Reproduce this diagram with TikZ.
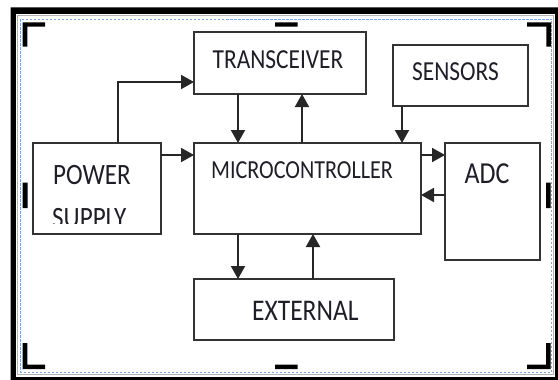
\documentclass[tikz,border=0pt]{standalone}
\usepackage{fontspec}
\setmainfont{Carlito}[FakeStretch=0.85]
\usetikzlibrary{arrows.meta}
\definecolor{inktext}{RGB}{30,30,40}
\definecolor{pageblue}{RGB}{125,165,230}
\begin{document}
\begin{tikzpicture}[x=1pt,y=-1pt,
  blk/.style={draw=black!80,line width=1.6pt,inner sep=0pt,outer sep=0pt},
  lbl/.style={anchor=base west,inner sep=0pt,text=inktext},
  link/.style={draw=black!85,line width=2pt,-{Triangle[length=13pt,width=14pt]}},
  crop/.style={fill=black}]
\useasboundingbox (0,0) rectangle (558,380);
\fill[black,even odd rule] (10.7,7.3) rectangle (562,384) (15.8,13.8) rectangle (555,377);
\draw[gray!60,line width=.6pt] (17.5,15) rectangle (553.5,374.5);
\draw[pageblue,line width=1pt,dash pattern=on 2.5pt off 1.5pt] (20.5,19) rectangle (551.5,372);
\fill[crop] (22.7,22.3) rectangle (45,26.7) (22.7,22.3) rectangle (27.3,46.7);
\fill[crop] (527,22.3) rectangle (551,26.7) (546.4,22.3) rectangle (551,46.7);
\fill[crop] (22.7,343) rectangle (27.3,369) (22.7,364.5) rectangle (45,369);
\fill[crop] (546,343) rectangle (550.6,369) (527,364.5) rectangle (550.6,369);
\fill[crop] (275,22.3) rectangle (297.5,26.7) (275,364.5) rectangle (297.5,369);
\fill[crop] (22.7,182.7) rectangle (27.5,208) (546,182.7) rectangle (550.6,208);
\node[blk,minimum width=172pt,minimum height=62pt] (trx) at (280,63) {};
\node[blk,minimum width=135pt,minimum height=61pt] (sen) at (460.5,75.5) {};
\node[blk,minimum width=128pt,minimum height=91pt] (psu) at (97,188.5) {};
\node[blk,minimum width=227pt,minimum height=91pt] (mcu) at (307.5,188.5) {};
\node[blk,minimum width=95pt,minimum height=117pt] (adc) at (492.5,201.5) {};
\node[blk,minimum width=200pt,minimum height=61pt] (ext) at (294,309.5) {};
\node[lbl,font=\fontsize{27.5}{30}\selectfont] (trxl) at (212.5,68) {TRANSCEIVER};
\node[lbl,font=\fontsize{26}{30}\selectfont] (mcul) at (211,178) {MICROCONTROLLER};
\node[lbl,font=\fontsize{27.5}{30}\selectfont] (senl) at (412,81) {SENSORS};
\node[lbl,font=\fontsize{29.5}{30}\selectfont] (psul) at (53,184) {POWER};
\begin{scope}
\clip (33,143) rectangle (161,223.5);
\node[lbl,font=\fontsize{29.5}{30}\selectfont] (psul2) at (52,227) {SUPPLY};
\end{scope}
\node[lbl,font=\fontsize{30.5}{30}\selectfont] (adcl) at (464.5,183) {ADC};
\node[lbl,font=\fontsize{30}{30}\selectfont] (extl) at (252,320) {EXTERNAL};
\draw[link] ([xshift=85pt]psu.north west) |- ([yshift=-19pt]trx.west);
\draw[link] ([yshift=-12pt]psu.north east) -- ([yshift=-12pt]mcu.north west);
\draw[link] ([xshift=44pt]trx.south west) -- ([xshift=44pt]mcu.north west);
\draw[link] ([xshift=108pt]mcu.north west) -- ([xshift=108pt]trx.south west);
\draw[link] ([xshift=9pt]sen.south west) -- ([xshift=9pt]sen.south west |- mcu.north);
\draw[link] ([yshift=-12pt]mcu.north east) -- ([yshift=-12pt]adc.north west);
\draw[link] ([yshift=-52pt]adc.north west) -- ([yshift=-52pt]mcu.north east);
\draw[link] ([xshift=44pt]mcu.south west) -- ([xshift=44pt]ext.north west);
\draw[link] ([xshift=119pt]ext.north west) -- ([xshift=119pt]mcu.south west);
\end{tikzpicture}
\end{document}
